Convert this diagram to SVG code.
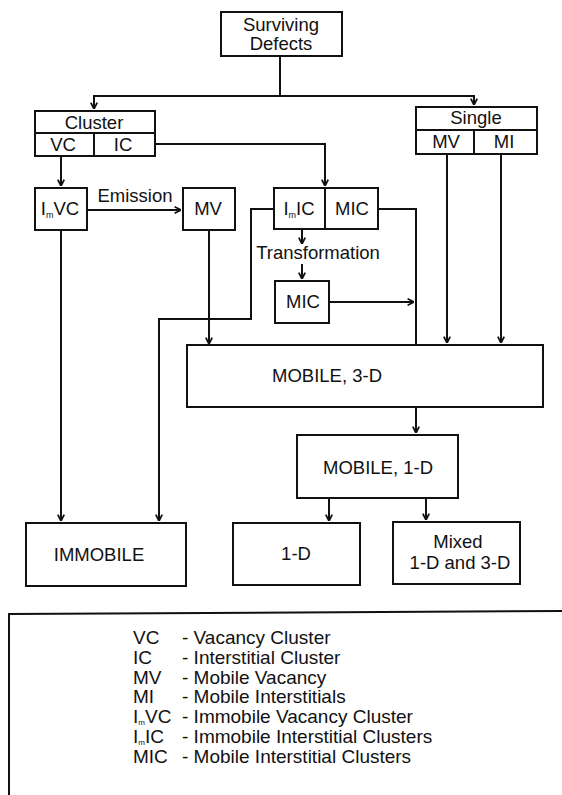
<svg xmlns="http://www.w3.org/2000/svg" width="562" height="795" viewBox="0 0 562 795">
<defs>
<marker id="arr" viewBox="0 0 10 10" refX="10" refY="5" markerWidth="8" markerHeight="8" markerUnits="userSpaceOnUse" orient="auto">
<path d="M2,1 L10,5 L2,9" fill="none" stroke="#111" stroke-width="2.2"/>
</marker>
<style>
rect{fill:#fff;stroke:#111;stroke-width:2}
.d{stroke:#111;stroke-width:2}
text{font-family:"Liberation Sans",Arial,sans-serif;font-size:18.5px;fill:#111}
.c{text-anchor:middle}
.sub{font-size:9px}
.lsub{font-size:8px}
.lg{font-size:19px}
#connectors path{fill:none;stroke:#111;stroke-width:2}
</style>
</defs>
<rect width="562" height="795" style="fill:#fff;stroke:none"/>

<g id="connectors">
<path d="M280,56 V96 H94 V109" marker-end="url(#arr)"/>
<path d="M280,96 H474 V105" marker-end="url(#arr)"/>
<path d="M155,144 H325 V186" marker-end="url(#arr)"/>
<path d="M61,156 V186" marker-end="url(#arr)"/>
<path d="M87,210 H181" marker-end="url(#arr)"/>
<path d="M209,230 V344" marker-end="url(#arr)"/>
<path d="M61,230 V521" marker-end="url(#arr)"/>
<path d="M274,209 H251 V319 H159 V521" marker-end="url(#arr)"/>
<path d="M378,209 H416 V433" marker-end="url(#arr)"/>
<path d="M302,229 V244" marker-end="url(#arr)"/>
<path d="M302,264 V279" marker-end="url(#arr)"/>
<path d="M329,302 H414" marker-end="url(#arr)"/>
<path d="M447,154 V343" marker-end="url(#arr)"/>
<path d="M501,154 V343" marker-end="url(#arr)"/>
<path d="M329,498 V521" marker-end="url(#arr)"/>
<path d="M426,498 V520" marker-end="url(#arr)"/>
</g>

<g id="surviving">
<rect x="221" y="12" width="121" height="44"/>
<text class="c" x="281" y="31">Surviving</text>
<text class="c" x="281" y="50">Defects</text>
</g>

<g id="cluster">
<rect x="35" y="111" width="120" height="45"/>
<line class="d" x1="35" y1="133" x2="155" y2="133"/>
<line class="d" x1="94" y1="133" x2="94" y2="156"/>
<text class="c" x="94" y="129">Cluster</text>
<text class="c" x="63" y="151">VC</text>
<text class="c" x="123" y="151">IC</text>
</g>

<g id="single">
<rect x="416" y="107" width="121" height="47"/>
<line class="d" x1="416" y1="130" x2="537" y2="130"/>
<line class="d" x1="474" y1="130" x2="474" y2="154"/>
<text class="c" x="476" y="124">Single</text>
<text class="c" x="446" y="148">MV</text>
<text class="c" x="504" y="148">MI</text>
</g>

<g id="imvc">
<rect x="35" y="188" width="52" height="42"/>
<text class="c" x="60" y="215">I<tspan class="sub" dy="3">m</tspan><tspan dy="-3">VC</tspan></text>
</g>

<g id="emission-label">
<text class="c" x="135" y="202">Emission</text>
</g>

<g id="mv">
<rect x="183" y="188" width="52" height="42"/>
<text class="c" x="208" y="215">MV</text>
</g>

<g id="imic-mic">
<rect x="274" y="188" width="104" height="41"/>
<line class="d" x1="325" y1="188" x2="325" y2="229"/>
<text class="c" x="299" y="215">I<tspan class="sub" dy="3">m</tspan><tspan dy="-3">IC</tspan></text>
<text class="c" x="352" y="215">MIC</text>
</g>

<g id="transformation-label">
<text class="c" x="318" y="259">Transformation</text>
</g>

<g id="mic2">
<rect x="275" y="281" width="54" height="42"/>
<text class="c" x="303" y="308">MIC</text>
</g>

<g id="mobile3d">
<rect x="187" y="345" width="356" height="62"/>
<text class="c" x="327" y="382">MOBILE, 3-D</text>
</g>

<g id="mobile1d">
<rect x="297" y="435" width="161" height="63"/>
<text class="c" x="378" y="474">MOBILE, 1-D</text>
</g>

<g id="immobile">
<rect x="26" y="523" width="160" height="63"/>
<text class="c" x="99" y="561">IMMOBILE</text>
</g>

<g id="oned">
<rect x="233" y="523" width="127" height="62"/>
<text class="c" x="296" y="560">1-D</text>
</g>

<g id="mixed">
<rect x="393" y="522" width="127" height="62"/>
<text class="c" x="458" y="548">Mixed</text>
<text class="c" x="460" y="569">1-D and 3-D</text>
</g>

<g id="legend">
<path d="M9,795 V614 L562,611" fill="none" stroke="#111" stroke-width="2"/>
<text class="lg" x="133" y="644">VC</text><text class="lg" x="182" y="644">- Vacancy Cluster</text>
<text class="lg" x="133" y="664">IC</text><text class="lg" x="182" y="664">- Interstitial Cluster</text>
<text class="lg" x="133" y="684">MV</text><text class="lg" x="182" y="684">- Mobile Vacancy</text>
<text class="lg" x="133" y="703">MI</text><text class="lg" x="182" y="703">- Mobile Interstitials</text>
<text class="lg" x="133" y="723">I<tspan class="lsub" dy="2">m</tspan><tspan dy="-2">VC</tspan></text><text class="lg" x="182" y="723">- Immobile Vacancy Cluster</text>
<text class="lg" x="133" y="743">I<tspan class="lsub" dy="2">m</tspan><tspan dy="-2">IC</tspan></text><text class="lg" x="182" y="743">- Immobile Interstitial Clusters</text>
<text class="lg" x="133" y="763">MIC</text><text class="lg" x="182" y="763">- Mobile Interstitial Clusters</text>
</g>
</svg>
